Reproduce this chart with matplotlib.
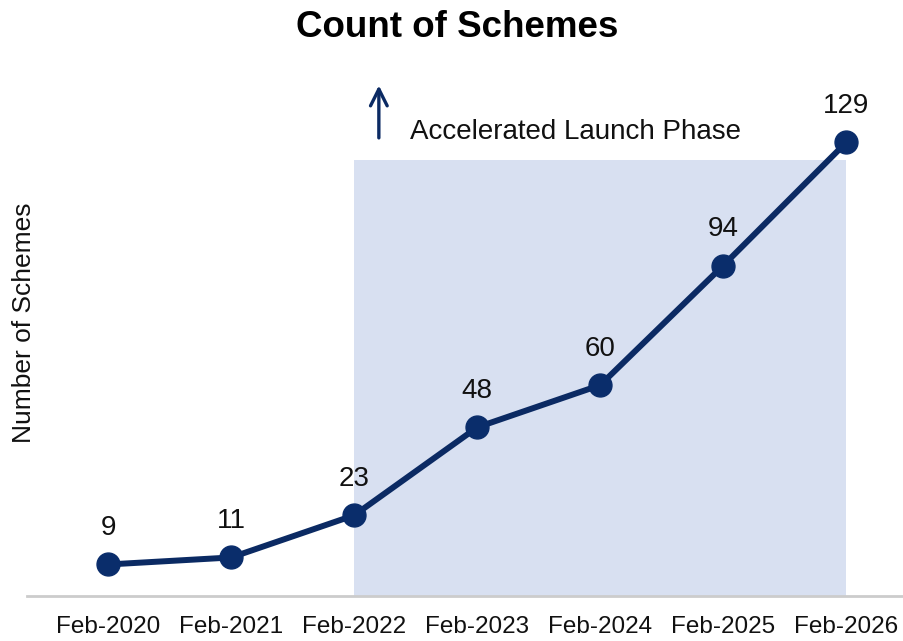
import matplotlib
matplotlib.use("Agg")
import matplotlib.pyplot as plt

# scheme counts by year
years = ["Feb-2020", "Feb-2021", "Feb-2022", "Feb-2023", "Feb-2024", "Feb-2025", "Feb-2026"]
scheme_counts = [9, 11, 23, 48, 60, 94, 129]

# accelerated phase band
phase_start = 2
phase_end = 6
phase_top = 124
phase_label = "Accelerated Launch Phase"

plt.rcParams['font.family'] = ['Liberation Sans', 'DejaVu Sans']

line_color = "#0b2a63"
shade_color = "#d8e0f1"
text_color = "#111111"

fig = plt.figure(figsize=(9.04, 6.41), dpi=100)
ax = fig.add_axes([0.03, 0.07, 0.97, 0.823])

x = list(range(len(years)))

ax.fill_between([phase_start, phase_end], 0, phase_top, color=shade_color, zorder=0, linewidth=0)

ax.plot(x, scheme_counts, color=line_color, linewidth=4.3, marker="o",
        markersize=16.5, markerfacecolor="#0a2d6b", markeredgecolor="#0a2d6b", zorder=3)

for xi, val in zip(x, scheme_counts):
    ax.annotate(str(val), (xi, val), xytext=(0, 17), textcoords="offset points",
                ha="center", va="bottom", fontsize=20, color=text_color)

# arrow + phase label
ax.annotate("", xy=(phase_start + 0.2, 146), xytext=(phase_start + 0.2, 129.5),
            arrowprops=dict(arrowstyle="->", color=line_color, lw=2.4, mutation_scale=30))
ax.text(phase_start + 0.45, 132, phase_label, fontsize=20, color=text_color, va="center", ha="left")

ax.set_xlim(-0.66, 6.47)
ax.set_ylim(0, 150)
ax.set_xticks(x)
ax.set_xticklabels(years, fontsize=17.5, color=text_color)
ax.set_yticks([])
ax.tick_params(axis="x", length=0, pad=14)

for side in ["top", "right", "left"]:
    ax.spines[side].set_visible(False)
ax.spines["bottom"].set_color("#cccccc")
ax.spines["bottom"].set_linewidth(2)

fig.text(0.026, 0.496, "Number of Schemes", fontsize=19, color=text_color,
         rotation=90, ha="center", va="center")
fig.text(0.506, 0.957, "Count of Schemes", fontsize=26.5, fontweight="bold", ha="center", va="center")

fig.savefig("out.png", dpi=100)
